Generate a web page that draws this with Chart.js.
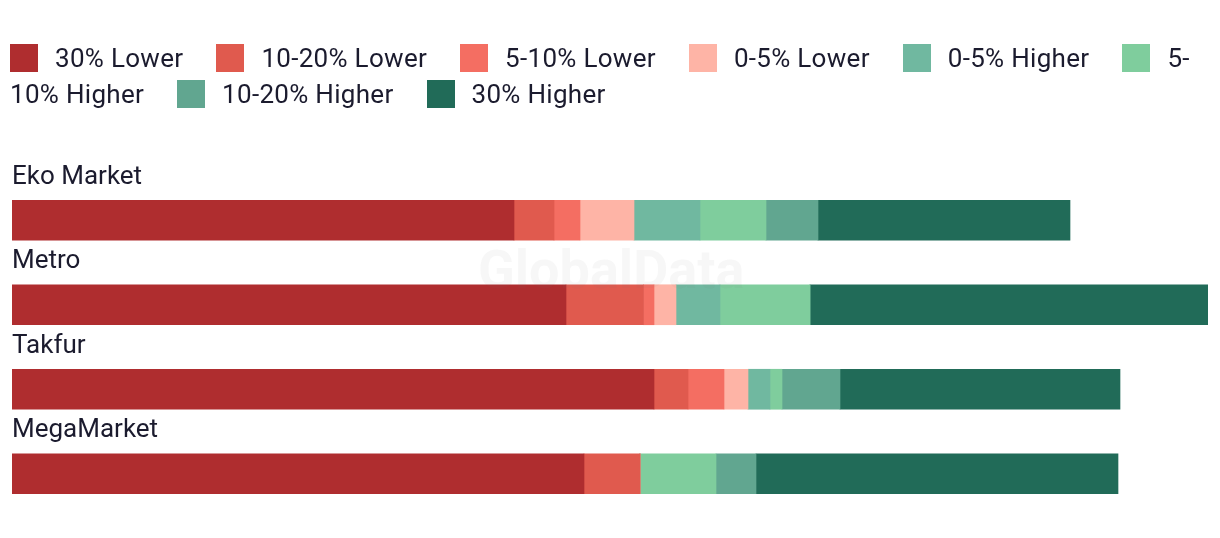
<!DOCTYPE html>
<html>
<head>
<meta charset="utf-8">
<script src="https://cdn.jsdelivr.net/npm/chart.js@4"></script>
<style>
  html, body { margin: 0; padding: 0; background: #fff; }
  #wrap { position: relative; width: 1220px; height: 538px; overflow: hidden; }
  #legend {
    position: absolute; left: 10px; top: 40px; width: 1205px;
    font-family: Roboto, sans-serif; font-size: 26px; letter-spacing: 0.3px; line-height: 36px; color: #1b1b2e;
  }
  #legend .box {
    display: inline-block; width: 28px; height: 28px; vertical-align: -5px; margin-right: 17px;
  }
  #legend .txt { margin-right: 33px; }
  #mark {
    position: absolute; left: 478px; top: 238px; font-family: Roboto, sans-serif;
    font-weight: bold; font-size: 54px; color: rgba(120,120,120,0.06); pointer-events: none;
  }
  canvas { position: absolute; left: 0; top: 0; }
</style>
</head>
<body>
<div id="wrap">
  <canvas id="myChart" width="1220" height="538"></canvas>
  <div id="legend"></div>
  <div id="mark">GlobalData</div>
</div>
<script>
'use strict'

// categories and series (bar segment sizes)
const stores = ['Eko Market', 'Metro', 'Takfur', 'MegaMarket'];

const seriesNames = ['30% Lower', '10-20% Lower', '5-10% Lower', '0-5% Lower',
  '0-5% Higher', '5-10% Higher', '10-20% Higher', '30% Higher'];

const lower30   = [50.2, 55.4, 64.2, 57.2];
const lower1020 = [4.0, 7.75, 3.4, 5.6];
const lower510  = [2.6, 1.05, 3.6, 0];
const lower05   = [5.4, 2.2, 2.4, 0];
const higher05  = [6.6, 4.4, 2.2, 0];
const higher510 = [6.6, 9.0, 1.2, 7.6];
const higher1020 = [5.2, 0, 5.8, 4.0];
const higher30  = [25.2, 39.8, 28.0, 36.2];

const colors = ['#af2d2f', '#e05a4e', '#f46e62', '#feb4a6',
  '#70b8a0', '#7fcd9d', '#61a690', '#216b58'];

const allValues = [lower30, lower1020, lower510, lower05, higher05, higher510, higher1020, higher30];

const datasets = seriesNames.map(function(name, i){
  return {
    label: name,
    data: allValues[i],
    backgroundColor: colors[i],
    borderWidth: 0,
    barThickness: 40
  };
});

const config = {
  type: 'bar',
  data: { labels: stores, datasets: datasets },
  options: {
    indexAxis: 'y',
    responsive: false,
    animation: false,
    layout: { padding: { left: 12, right: 12, top: 178, bottom: 22 } },
    plugins: { legend: { display: false }, tooltip: { enabled: false } },
    scales: {
      x: { stacked: true, display: false, min: 0, max: 119.6 },
      y: {
        stacked: true,
        grid: { display: false, drawTicks: false },
        border: { display: false },
        ticks: {
          mirror: true,
          padding: 0,
          labelOffset: -43,
          color: '#1b1b2e',
          font: { family: 'Roboto', size: 26 }
        }
      }
    }
  }
};

const myChart = new Chart(document.getElementById('myChart'), config);

// html legend so the text wraps like the original
let legendEl = document.getElementById('legend');
let html = '';
myChart.data.datasets.forEach(function(ds){
  let txt = ds.label.replace(/-/g, '-<wbr>');
  html += '<span class="item"><span class="box" style="background:' + ds.backgroundColor +
    '"></span><span class="txt">' + txt + '</span></span>';
});
legendEl.innerHTML = html;
</script>
</body>
</html>
